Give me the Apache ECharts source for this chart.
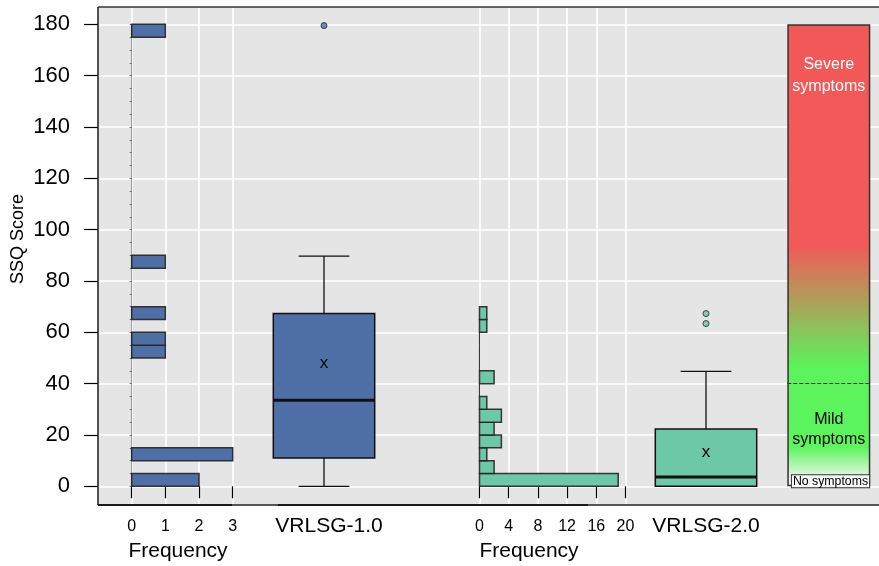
<!DOCTYPE html>
<html>
<head>
<meta charset="utf-8">
<script src="https://cdn.jsdelivr.net/npm/echarts@6/dist/echarts.min.js"></script>
<style>
  html, body { margin: 0; padding: 0; background: #ffffff; }
  #chart { width: 879px; height: 566px; }
</style>
</head>
<body>
<div id="chart"></div>
<script>
// ---- Data ----------------------------------------------------------------
// SSQ score histograms, 5-point bins starting at 0
const binWidth = 5;
const freqV1 = [2, 0, 3, 0, 0, 0, 0, 0, 0, 0, 1, 1, 0, 1, 0, 0, 0, 1,
                0, 0, 0, 0, 0, 0, 0, 0, 0, 0, 0, 0, 0, 0, 0, 0, 0, 1];
const freqV2 = [19, 2, 1, 3, 2, 3, 1, 0, 2, 0, 0, 0, 1, 1];

// Group names and box summaries: [min, Q1, median, Q3, max]
const groups = ['VRLSG-1.0', 'VRLSG-2.0'];
const boxV1 = [0, 11, 33.5, 67.3, 89.7];
const boxV2 = [0, 0, 3.6, 22.3, 44.8];
const meanV1 = 48.0;
const meanV2 = 13.1;
const outliersV1 = [179.5];
const outliersV2 = [67.3, 63.4];

// Axis ticks
const scoreTicks = [0, 20, 40, 60, 80, 100, 120, 140, 160, 180];
const freqTicksV1 = [0, 1, 2, 3];
const freqTicksV2 = [0, 4, 8, 12, 16, 20];

// Symptom severity scale
const severityRange = [0, 180];
const mildThreshold = 40;

// ---- Layout ----------------------------------------------------------------
const FONT = 'Liberation Sans, Arial, Helvetica, sans-serif';
const plot = { left: 98, top: 7, right: 879, bottom: 505 };
const dataTop = 24.3, dataH = 462;           // 0..180 score band
const pxPerScore = dataH / (scoreTicks[scoreTicks.length - 1] - scoreTicks[0]);
const fullMin = -(plot.bottom - (dataTop + dataH)) / pxPerScore;
const fullMax = scoreTicks[scoreTicks.length - 1] + (dataTop - plot.top) / pxPerScore;

const colV1 = '#4F6FA7';
const colV2 = '#6DC8A7';
const edge = 'rgba(35,35,35,0.9)';

function binsOf(freq) {
  return freq.map((n, i) => [i * binWidth, (i + 1) * binWidth, n]);
}

function histRenderer(fill, drawZero) {
  return function (params, api) {
    const lo = api.value(0), hi = api.value(1), n = api.value(2);
    const p0 = api.coord([0, lo]);
    const p1 = api.coord([n, hi]);
    if (n === 0) {
      if (!drawZero) return null;
      return {
        type: 'line',
        shape: { x1: p0[0], y1: p0[1], x2: p0[0], y2: p1[1] },
        style: { stroke: edge, lineWidth: 1.2 }
      };
    }
    return {
      type: 'rect',
      shape: { x: p0[0], y: p1[1], width: p1[0] - p0[0], height: p0[1] - p1[1] },
      style: { fill: fill, stroke: edge, lineWidth: 1.5 }
    };
  };
}

function boxRenderer(fill) {
  return function (params, api) {
    const v = [1, 2, 3, 4, 5, 6].map(k => api.value(k));
    const [mn, q1, md, q3, mx, mean] = v;
    const cx = api.coord([api.value(0), md])[0];
    const band = api.size([1, 0])[0];
    const hw = band * 0.2535;
    const cw = hw / 2;
    const y = s => api.coord([api.value(0), s])[1];
    const line = (x1, y1, x2, y2, w) => ({
      type: 'line', shape: { x1, y1, x2, y2 },
      style: { stroke: '#111', lineWidth: w }
    });
    return {
      type: 'group',
      children: [
        line(cx, y(mx), cx, y(q3), 1.3),
        line(cx, y(q1), cx, y(mn), 1.3),
        line(cx - cw, y(mx), cx + cw, y(mx), 1.3),
        line(cx - cw, y(mn), cx + cw, y(mn), 1.3),
        {
          type: 'rect',
          shape: { x: cx - hw, y: y(q3), width: 2 * hw, height: y(q1) - y(q3) },
          style: { fill: fill, stroke: '#111', lineWidth: 1.5 }
        },
        line(cx - hw, y(md), cx + hw, y(md), 3),
        {
          type: 'text', x: cx, y: y(mean),
          style: { text: 'x', fill: '#000', font: '17px ' + FONT, align: 'center', verticalAlign: 'middle' }
        }
      ]
    };
  };
}

const option = {
  animation: false,
  textStyle: { fontFamily: FONT },
  grid: [
    // 0: score axis spanning the whole plot width
    { left: plot.left, top: dataTop, width: plot.right - plot.left, height: dataH },
    // 1: histogram V1, full plot height (frequency axis + grid lines)
    { left: 131.7, top: plot.top, width: 101, height: plot.bottom - plot.top },
    // 2: histogram V1 bars
    { left: 131.7, top: dataTop, width: 101, height: dataH },
    // 3: histogram V2, full plot height
    { left: 479.5, top: plot.top, width: 146, height: plot.bottom - plot.top },
    // 4: histogram V2 bars
    { left: 479.5, top: dataTop, width: 146, height: dataH },
    // 5: box V1
    { left: 224, top: dataTop, width: 200, height: dataH },
    // 6: box V2
    { left: 606, top: dataTop, width: 200, height: dataH },
    // 7: severity scale
    { left: 787.3, top: dataTop, width: 83, height: dataH }
  ],
  xAxis: [
    { gridIndex: 0, type: 'value', show: false },
    {
      gridIndex: 1, type: 'value', min: freqTicksV1[0], max: freqTicksV1[freqTicksV1.length - 1],
      interval: freqTicksV1[1] - freqTicksV1[0],
      axisLine: { show: false },
      axisTick: { show: true, length: 12, lineStyle: { color: '#000', width: 1.2 } },
      axisLabel: { fontSize: 16, color: '#000', margin: 14 },
      splitLine: { show: true, lineStyle: { color: '#ffffff', width: 1.6 } }
    },
    { gridIndex: 2, type: 'value', min: freqTicksV1[0], max: freqTicksV1[freqTicksV1.length - 1], show: false },
    {
      gridIndex: 3, type: 'value', min: freqTicksV2[0], max: freqTicksV2[freqTicksV2.length - 1],
      interval: freqTicksV2[1] - freqTicksV2[0],
      axisLine: { show: false },
      axisTick: { show: true, length: 12, lineStyle: { color: '#000', width: 1.2 } },
      axisLabel: { fontSize: 16, color: '#000', margin: 14 },
      splitLine: { show: true, lineStyle: { color: '#ffffff', width: 1.6 } }
    },
    { gridIndex: 4, type: 'value', min: freqTicksV2[0], max: freqTicksV2[freqTicksV2.length - 1], show: false },
    {
      gridIndex: 5, type: 'category', data: [groups[0]],
      axisLine: { show: false }, axisTick: { show: false },
      axisLabel: { fontSize: 21, color: '#000', margin: 29, padding: [0, 0, 0, 10] }
    },
    {
      gridIndex: 6, type: 'category', data: [groups[1]],
      axisLine: { show: false }, axisTick: { show: false },
      axisLabel: { fontSize: 21, color: '#000', margin: 29 }
    },
    { gridIndex: 7, type: 'category', data: ['severity'], show: false }
  ],
  yAxis: [
    {
      gridIndex: 0, type: 'value', min: scoreTicks[0], max: scoreTicks[scoreTicks.length - 1],
      interval: scoreTicks[1] - scoreTicks[0],
      axisLine: { show: false },
      axisTick: { show: true, length: 14, lineStyle: { color: '#000', width: 1.2 } },
      axisLabel: { fontSize: 22, color: '#000', margin: 28 },
      splitLine: { show: true, lineStyle: { color: '#ffffff', width: 1.6 } }
    },
    { gridIndex: 1, type: 'value', min: fullMin, max: fullMax, show: false },
    {
      gridIndex: 2, type: 'value', min: 0, max: severityRange[1], interval: binWidth,
      axisLine: { show: true, lineStyle: { color: '#a3a3a3', width: 1.2 } },
      axisTick: { show: true, length: 2, lineStyle: { color: '#6a6a6a', width: 1 } },
      axisLabel: { show: false }, splitLine: { show: false }
    },
    { gridIndex: 3, type: 'value', min: fullMin, max: fullMax, show: false },
    { gridIndex: 4, type: 'value', min: 0, max: severityRange[1], show: false },
    { gridIndex: 5, type: 'value', min: 0, max: severityRange[1], show: false },
    { gridIndex: 6, type: 'value', min: 0, max: severityRange[1], show: false },
    { gridIndex: 7, type: 'value', min: 0, max: severityRange[1], show: false }
  ],
  series: [
    {
      type: 'custom', xAxisIndex: 2, yAxisIndex: 2,
      renderItem: histRenderer(colV1, false),
      data: binsOf(freqV1)
    },
    {
      type: 'custom', xAxisIndex: 4, yAxisIndex: 4,
      renderItem: histRenderer(colV2, true),
      data: binsOf(freqV2)
    },
    {
      type: 'custom', xAxisIndex: 5, yAxisIndex: 5,
      renderItem: boxRenderer(colV1),
      data: [[0].concat(boxV1, [meanV1])]
    },
    {
      type: 'custom', xAxisIndex: 6, yAxisIndex: 6,
      renderItem: boxRenderer(colV2),
      data: [[0].concat(boxV2, [meanV2])]
    },
    {
      type: 'scatter', xAxisIndex: 5, yAxisIndex: 5, symbol: 'circle', symbolSize: 6,
      itemStyle: { color: colV1, borderColor: '#222', borderWidth: 1 },
      data: outliersV1.map(v => [0, v]), z: 5
    },
    {
      type: 'scatter', xAxisIndex: 6, yAxisIndex: 6, symbol: 'circle', symbolSize: 6,
      itemStyle: { color: colV2, borderColor: '#222', borderWidth: 1 },
      data: outliersV2.map(v => [0, v]), z: 5
    },
    {
      type: 'bar', xAxisIndex: 7, yAxisIndex: 7, barWidth: 83,
      data: [severityRange[1]],
      itemStyle: {
        borderColor: '#333', borderWidth: 1.5,
        color: {
          type: 'linear', x: 0, y: 0, x2: 0, y2: 1,
          colorStops: [
            { offset: 0.0, color: '#F35858' },
            { offset: 0.48, color: '#F25A59' },
            { offset: 0.74, color: '#5CF25C' },
            { offset: 0.915, color: '#5CF55C' },
            { offset: 0.985, color: '#F2F5F2' },
            { offset: 1.0, color: '#F6F6F6' }
          ]
        }
      },
      markLine: {
        silent: true, symbol: 'none', label: { show: false },
        lineStyle: { type: 'dashed', color: '#333', width: 1 },
        data: [{ yAxis: mildThreshold }]
      }
    }
  ],
  graphic: [
    // plot background
    { type: 'rect', z: -100, silent: true,
      shape: { x: plot.left, y: plot.top, width: plot.right - plot.left, height: plot.bottom - plot.top },
      style: { fill: '#E5E5E5' } },
    // frame
    { type: 'line', z: 100, shape: { x1: plot.left, y1: plot.top, x2: plot.right, y2: plot.top },
      style: { stroke: '#333', lineWidth: 1.5 } },
    { type: 'line', z: 100, shape: { x1: plot.left, y1: plot.top, x2: plot.left, y2: plot.bottom },
      style: { stroke: '#1a1a1a', lineWidth: 1.5 } },
    { type: 'line', z: 100, shape: { x1: plot.left, y1: plot.bottom, x2: 232.7, y2: plot.bottom },
      style: { stroke: '#1a1a1a', lineWidth: 1.8 } },
    { type: 'line', z: 100, shape: { x1: 232.7, y1: plot.bottom, x2: 278, y2: plot.bottom },
      style: { stroke: '#555', lineWidth: 1.8 } },
    { type: 'line', z: 100, shape: { x1: 278, y1: plot.bottom, x2: 588, y2: plot.bottom },
      style: { stroke: '#1a1a1a', lineWidth: 1.8 } },
    { type: 'line', z: 100, shape: { x1: 588, y1: plot.bottom, x2: plot.right, y2: plot.bottom },
      style: { stroke: '#555', lineWidth: 1.8 } },
    // score axis title
    { type: 'text', z: 100, x: 18, y: 239, rotation: Math.PI / 2,
      style: { text: 'SSQ Score', font: '18px ' + FONT, fill: '#000', align: 'center', verticalAlign: 'middle' } },
    // frequency axis titles
    { type: 'text', z: 100, x: 178, y: 551,
      style: { text: 'Frequency', font: '21px ' + FONT, fill: '#000', align: 'center', verticalAlign: 'middle' } },
    { type: 'text', z: 100, x: 529, y: 551,
      style: { text: 'Frequency', font: '21px ' + FONT, fill: '#000', align: 'center', verticalAlign: 'middle' } },
    // severity scale captions
    { type: 'text', z: 100, x: 828.8, y: 76,
      style: { text: 'Severe\nsymptoms', font: '16px ' + FONT, fill: '#ffffff', align: 'center',
               verticalAlign: 'middle', lineHeight: 22 } },
    { type: 'text', z: 100, x: 828.8, y: 430,
      style: { text: 'Mild\nsymptoms', font: '16px ' + FONT, fill: '#000', align: 'center',
               verticalAlign: 'middle', lineHeight: 20 } },
    { type: 'text', z: 100, x: 830.5, y: 481.3,
      style: { text: 'No symptoms', font: '12.3px ' + FONT, fill: '#000', align: 'center',
               verticalAlign: 'middle', backgroundColor: '#F8F8F8', borderColor: '#333',
               borderWidth: 1, padding: [0, 1, 0, 1], lineHeight: 12 } }
  ]
};

const chart = echarts.init(document.getElementById('chart'), null, { renderer: 'canvas' });
chart.setOption(option);
</script>
</body>
</html>
